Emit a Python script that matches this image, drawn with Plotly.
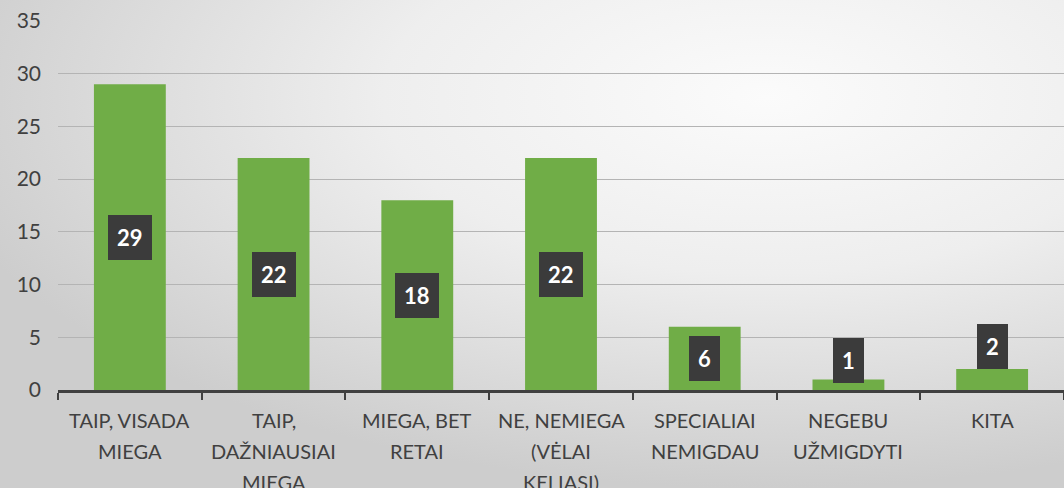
import base64
import plotly.graph_objects as go

categories = ['TAIP, VISADA MIEGA', 'TAIP, DAŽNIAUSIAI MIEGA', 'MIEGA, BET RETAI',
              'NE, NEMIEGA (VĖLAI KELIASI)', 'SPECIALIAI NEMIGDAU', 'NEGEBU UŽMIGDYTI', 'KITA']
label_lines = [['TAIP, VISADA', 'MIEGA'],
               ['TAIP,', 'DAŽNIAUSIAI', 'MIEGA'],
               ['MIEGA, BET', 'RETAI'],
               ['NE, NEMIEGA', '(VĖLAI', 'KELIASI)'],
               ['SPECIALIAI', 'NEMIGDAU'],
               ['NEGEBU', 'UŽMIGDYTI'],
               ['KITA']]
values = [29, 22, 18, 22, 6, 1, 2]
y_ticks = [0, 5, 10, 15, 20, 25, 30, 35]

text_col = '#404040'
bar_col = '#70AD47'
font = 'Lato, Open Sans, sans-serif'

# soft radial background like the office chart style
svg = '''<svg xmlns="http://www.w3.org/2000/svg" width="1064" height="488" preserveAspectRatio="none">
<defs><radialGradient id="g" cx="0.72" cy="0.2" r="0.8" fx="0.72" fy="0.2">
<stop offset="0" stop-color="#fbfbfb"/><stop offset="0.45" stop-color="#eeeeee"/>
<stop offset="1" stop-color="#cdcdcd"/></radialGradient></defs>
<rect width="1064" height="488" fill="url(#g)"/></svg>'''
bg_uri = 'data:image/svg+xml;base64,' + base64.b64encode(svg.encode()).decode()

fig = go.Figure()
fig.add_trace(go.Bar(x=categories, y=values, width=0.5, marker=dict(color=bar_col, line=dict(width=0)),
                     hoverinfo='x+y'))

W, H = 1064, 488
ml, mr, mt, mb = 58, 0, 21, 98
pw, ph = W - ml - mr, H - mt - mb

annotations = []
for cat, v in zip(categories, values):
    if v / 2 >= 2.8:
        annotations.append(dict(x=cat, y=v / 2, yanchor='middle'))
    else:
        annotations.append(dict(x=cat, y=v, yanchor='bottom', yshift=-4 if v < 2 else 0))
for a, v in zip(annotations, values):
    a.update(xref='x', yref='y', text='<b>%d</b>' % v, showarrow=False,
             font=dict(family=font, size=22, color='white'),
             bgcolor='#3b3b3b', borderpad=9, bordercolor='#3b3b3b', borderwidth=0)

for cat, lines in zip(categories, label_lines):
    for i, line in enumerate(lines):
        annotations.append(dict(x=cat, xref='x', y=0, yref='paper', yanchor='middle',
                                yshift=-(30 + i * 31), text=line, showarrow=False,
                                font=dict(family=font, size=20, color=text_col)))

fig.update_layout(
    width=W, height=H,
    margin=dict(l=ml, r=mr, t=mt, b=mb),
    paper_bgcolor='#e6e6e6',
    plot_bgcolor='rgba(0,0,0,0)',
    showlegend=False,
    bargap=0.5,
    images=[dict(source=bg_uri, xref='paper', yref='paper', x=-ml / pw, y=1 + mt / ph,
                 sizex=W / pw, sizey=H / ph, sizing='stretch', xanchor='left', yanchor='top',
                 layer='below')],
    xaxis=dict(showticklabels=False, ticks='outside', tickson='boundaries', ticklen=7,
               tickwidth=2, tickcolor='#404040', showline=True, linecolor='#404040', linewidth=3,
               showgrid=False, range=[-0.5, 6.5]),
    yaxis=dict(range=[0, 35], tickvals=y_ticks, showgrid=True, gridcolor='#b4b4b4', gridwidth=1,
               zeroline=False, showline=False, ticks='', ticklabelstandoff=16,
               tickfont=dict(family=font, size=21, color=text_col)),
    annotations=annotations,
)

fig.write_html("out.html", config={'displayModeBar': False},
               post_script="document.body.style.margin='0';")
